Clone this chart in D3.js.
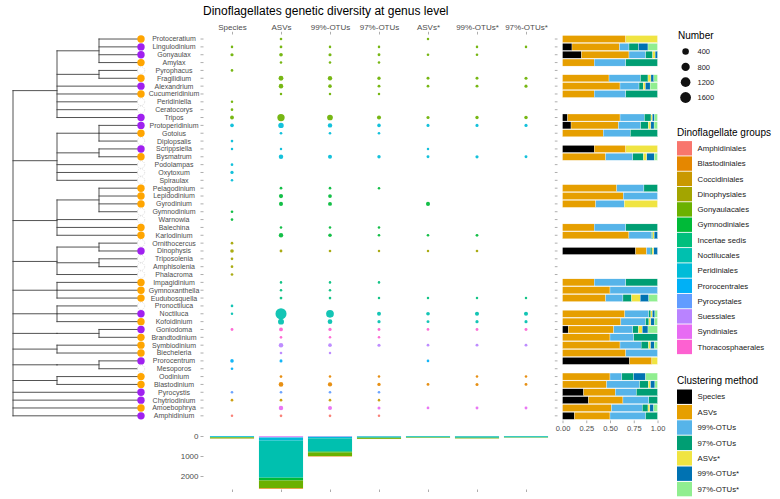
<!DOCTYPE html>
<html><head><meta charset="utf-8">
<script src="https://cdn.jsdelivr.net/npm/d3@7"></script>
<style>
body{margin:0;background:#fff;}
svg{display:block;font-family:"Liberation Sans",Arial,sans-serif;}
</style></head><body>
<svg id="chart" width="780" height="499"></svg>
<script>
// ---------------- DATA ----------------
const genera = ["Protoceratium","Lingulodinium","Gonyaulax","Amylax","Pyrophacus","Fragilidium","Alexandrium","Cucumeridinium","Peridiniella","Ceratocorys","Tripos",
"Protoperidinium","Gotoius","Diplopsalis","Scrippsiella","Bysmatrum","Podolampas","Oxytoxum","Spiraulax",
"Pelagodinium","Lepidodinium","Gyrodinium","Gymnodinium","Warnowia","Balechina","Karlodinium",
"Ornithocercus","Dinophysis","Triposolenia","Amphisolenia","Phalacroma",
"Impagidinium","Gymnoxanthella","Eudubosquella","Pronoctiluca","Noctiluca","Kofoidinium",
"Goniodoma","Brandtodinium","Symbiodinium","Biecheleria","Prorocentrum","Mesoporos",
"Oodinium","Blastodinium","Pyrocystis","Chytriodinium","Amoebophrya","Amphidinium"];

const genusGroup = ["Gonyaulacales","Gonyaulacales","Gonyaulacales","Gonyaulacales","Gonyaulacales","Gonyaulacales","Gonyaulacales","Gonyaulacales","Gonyaulacales","Gonyaulacales","Gonyaulacales",
"Peridiniales","Peridiniales","Peridiniales","Peridiniales","Peridiniales","Peridiniales","Peridiniales","Peridiniales",
"Gymnodiniales","Gymnodiniales","Gymnodiniales","Gymnodiniales","Gymnodiniales","Gymnodiniales","Gymnodiniales",
"Dinophysiales","Dinophysiales","Dinophysiales","Dinophysiales","Dinophysiales",
"Incertae sedis","Incertae sedis","Incertae sedis","Noctilucales","Noctilucales","Noctilucales",
"Thoracosphaerales","Thoracosphaerales","Suessiales","Suessiales","Prorocentrales","Prorocentrales",
"Blastodiniales","Blastodiniales","Pyrocystales","Coccidiniales","Syndiniales","Amphidiniales"];

// tip marker: o = orange, p = purple, w = empty
const tipMarker = ["o","p","p","o","w","o","p","o","w","w","p",
"p","o","w","p","o","w","w","w",
"o","o","o","w","w","o","o",
"w","p","w","w","w",
"o","o","o","w","p","o",
"p","o","o","o","p","w",
"o","o","p","p","o","p"];

// dendrogram topology (nested lists of tip names)
const tree = [
  [["Protoceratium","Lingulodinium","Gonyaulax","Amylax"],["Pyrophacus","Fragilidium"],"Alexandrium","Cucumeridinium","Peridiniella","Ceratocorys","Tripos"],
  [["Protoperidinium","Gotoius","Diplopsalis"],["Scrippsiella","Bysmatrum"],"Podolampas","Oxytoxum","Spiraulax"],
  [["Pelagodinium","Lepidodinium","Gyrodinium","Gymnodinium"],"Warnowia","Balechina","Karlodinium"],
  [["Ornithocercus","Dinophysis"],["Triposolenia","Amphisolenia"],"Phalacroma"],
  ["Impagidinium","Gymnoxanthella","Eudubosquella"],
  ["Pronoctiluca","Noctiluca","Kofoidinium"],
  [["Goniodoma","Brandtodinium"]],
  ["Symbiodinium","Biecheleria"],
  [["Prorocentrum","Mesoporos"]],
  ["Oodinium","Blastodinium"],
  "Pyrocystis","Chytriodinium","Amoebophrya","Amphidinium"
];

const methods = ["Species","ASVs","99%-OTUs","97%-OTUs","ASVs*","99%-OTUs*","97%-OTUs*"];

// counts per genus (same order as genera), one array per method
const nSpecies = [0,1,16,0,2,0,0,0,1,2,54, 40,0,2,1,0,3,20,1, 0,0,0,3,2,0,0, 3,40,3,3,3, 0,0,0,2,1,0, 6,0,0,0,36,3, 0,0,2,3,0,1];
const nASVs    = [2,5,40,1,0,142,109,1,0,0,550, 222,3,0,1,105,0,0,0, 4,80,70,0,0,1,100, 0,6,0,0,0, 1,1,5,0,1700,300, 48,2,109,2,12,0, 4,121,3,4,103,3];
const nOTU99   = [0,1,14,1,0,96,36,1,0,0,255, 104,2,0,0,66,0,0,0, 2,45,60,0,0,1,34, 0,2,0,0,0, 1,1,2,0,650,127, 20,1,40,1,0,0, 1,90,2,3,65,3];
const nOTU97   = [0,1,6,1,0,23,8,1,0,0,70, 36,2,0,0,26,0,0,0, 1,0,0,0,0,1,2, 0,1,0,0,0, 1,0,1,0,60,17, 6,1,14,0,0,0, 1,24,2,1,12,1];
const nASVsS   = [1,0,2,0,0,9,4,0,0,0,14, 12,0,0,1,8,0,0,0, 0,0,70,0,0,0,2, 0,1,0,0,0, 0,0,1,0,40,10, 4,0,4,0,3,0, 0,6,0,0,4,0];
const nOTU99S  = [0,1,2,0,0,9,9,0,0,0,24, 15,0,0,0,18,0,0,0, 0,0,0,0,0,0,5, 0,2,0,0,0, 0,0,1,0,70,19, 6,0,7,0,0,0, 1,12,0,0,8,0];
const nOTU97S  = [0,1,0,0,0,11,14,0,0,0,30, 16,0,0,0,8,0,0,0, 0,0,0,0,0,0,0, 0,0,0,0,0, 0,0,1,0,70,15, 10,0,6,0,0,0, 1,7,0,0,8,0];
const methodCounts = [nSpecies,nASVs,nOTU99,nOTU97,nASVsS,nOTU99S,nOTU97S];

const groups = ["Amphidiniales","Blastodiniales","Coccidiniales","Dinophysiales","Gonyaulacales","Gymnodiniales","Incertae sedis","Noctilucales","Peridiniales","Prorocentrales","Pyrocystales","Suessiales","Syndiniales","Thoracosphaerales"];
const groupColors = ["#F8766D","#E58700","#C99800","#A3A500","#6BB100","#00BA38","#00BF7D","#00C0AF","#00BCD8","#00B0F6","#619CFF","#B983FF","#E76BF3","#FD61D1"];

// bottom panel: totals per group (order of groups) for each method
const totSpecies = [2,2,3,15,45,15,0,2,40,8,2,0,0,1];
const totASVs    = [5,30,4,6,383,133,7,1850,150,12,3,30,25,12];
const totOTU99   = [3,20,3,2,180,50,3,650,80,0,2,15,12,8];
const totOTU97   = [1,5,1,3,50,8,1,45,25,0,2,5,3,3];
const totASVsS   = [0,2,0,1,20,10,1,45,12,1,0,1,1,1];
const totOTU99S  = [0,3,0,1,30,3,1,65,15,0,0,2,2,2];
const totOTU97S  = [0,2,0,0,15,0,1,55,8,0,0,1,1,3];
const methodTotals = [totSpecies,totASVs,totOTU99,totOTU97,totASVsS,totOTU99S,totOTU97S];

const methodColors = ["#000000","#E69F00","#56B4E9","#009E73","#F0E442","#0072B2","#90EE90"];
const sizeBreaks = [400,800,1200,1600];
const propTicks = [0,0.25,0.5,0.75,1];
const totalTicks = [0,1000,2000];

// ---------------- DRAWING ----------------
const svg = d3.select("#chart");
const TXT = "#4d4d4d", TICK = "#8a8a8a";
const groupColor = d3.scaleOrdinal().domain(groups).range(groupColors);
const methodColor = d3.scaleOrdinal().domain(methods).range(methodColors);

const y = d3.scaleBand().domain(genera).range([35.1, 419.75]);
const yc = g => y(g) + y.bandwidth()/2;
const xm = d3.scalePoint().domain(methods).range([232, 526]);
const size = d3.scaleSqrt().domain([0,1600]).range([1.15,5.4]);
const xb = d3.scaleLinear().domain([0,1]).range([562.5,657.5]);
const yb = d3.scaleLinear().domain([0,1000]).range([436,456]);

function styleAxis(g, fs){
  g.select(".domain").remove();
  g.selectAll(".tick line").attr("stroke",TICK).attr("stroke-width",0.7);
  g.selectAll(".tick text").attr("fill",TXT).attr("font-size",fs).attr("font-family",'"Liberation Sans",Arial,sans-serif');
}

// title
svg.append("text").attr("x",203).attr("y",14.5).attr("font-size",12).attr("fill","#000")
  .text("Dinoflagellates genetic diversity at genus level");

// tree
const root = d3.hierarchy(tree, d => Array.isArray(d) ? d : null);
const depthX = [13,57,99], leafX = 141;
root.eachAfter(n => {
  if (!n.children) { n.py = yc(n.data); n.px = leafX; }
  else { n.py = d3.mean(n.children, c => c.py); n.px = depthX[n.depth]; }
});
const gTree = svg.append("g").attr("stroke","#404040").attr("stroke-width",0.9).attr("stroke-linecap","square");
root.each(n => {
  if (n.children) {
    const ys = n.children.map(c => c.py);
    gTree.append("line").attr("x1",n.px).attr("x2",n.px).attr("y1",d3.min(ys)).attr("y2",d3.max(ys));
    n.children.forEach(c => gTree.append("line").attr("x1",n.px).attr("x2",c.px).attr("y1",c.py).attr("y2",c.py));
  }
});

// tip markers and labels
const markerFill = {o:"#FFA500", p:"#A020F0", w:"#ffffff"};
svg.append("g").selectAll("circle").data(genera).join("circle")
  .attr("cx",leafX).attr("cy",d=>yc(d)).attr("r",3.7)
  .attr("fill",(d,i)=>markerFill[tipMarker[i]])
  .attr("stroke",(d,i)=>tipMarker[i]==="w"?"#c8c8c8":"none")
  .attr("stroke-width",0.6).attr("stroke-dasharray",(d,i)=>tipMarker[i]==="w"?"1,1":null);
svg.append("g").selectAll("text").data(genera).join("text")
  .attr("x",174).attr("y",d=>yc(d)).attr("dy","0.35em").attr("text-anchor","middle")
  .attr("font-size",7).attr("fill",TXT).text(d=>d);

// dot panel axes
svg.append("g").attr("transform","translate(0,34.5)")
  .call(d3.axisTop(xm).tickSize(2.7).tickPadding(2.3)).call(g=>styleAxis(g,8));
svg.append("g").attr("transform","translate(203.5,0)")
  .call(d3.axisLeft(y).tickSize(3).tickFormat("")).call(g=>styleAxis(g,7));

// dots
const dots = [];
genera.forEach((g,i)=>methods.forEach((m,j)=>{
  const v = methodCounts[j][i];
  if (v>0) dots.push({g, m, v, grp: genusGroup[i]});
}));
dots.sort((a,b)=>b.v-a.v);
svg.append("g").selectAll("circle").data(dots).join("circle")
  .attr("cx",d=>xm(d.m)).attr("cy",d=>yc(d.g)).attr("r",d=>size(d.v))
  .attr("fill",d=>groupColor(d.grp)).attr("opacity",0.92);

// proportion bars
svg.append("g").attr("transform","translate(557.5,0)")
  .call(d3.axisLeft(y).tickSize(2.7).tickFormat("")).call(g=>styleAxis(g,7));
svg.append("g").attr("transform","translate(0,420.5)")
  .call(d3.axisBottom(xb).tickValues(propTicks).tickFormat(d3.format(".2f")).tickSize(2.7).tickPadding(2.2))
  .call(g=>styleAxis(g,7.5));
const segs = [];
genera.forEach((g,i)=>{
  const vals = methodCounts.map(a=>a[i]);
  const mol = d3.sum(vals.slice(1));
  if (mol<=0) return;
  const tot = d3.sum(vals);
  let c = 0;
  vals.forEach((v,j)=>{ if(v>0){ segs.push({g, m:methods[j], x0:c/tot, x1:(c+v)/tot}); } c+=v; });
});
const bh = y.bandwidth()*0.9;
svg.append("g").selectAll("rect").data(segs).join("rect")
  .attr("x",d=>xb(d.x0)).attr("width",d=>xb(d.x1)-xb(d.x0))
  .attr("y",d=>yc(d.g)-bh/2).attr("height",bh)
  .attr("fill",d=>methodColor(d.m)).attr("stroke","#fff").attr("stroke-width",0.3);

// bottom stacked totals
const totRows = methods.map((m,j)=>{ const o={method:m}; groups.forEach((gr,k)=>o[gr]=methodTotals[j][k]); return o; });
const stack = d3.stack().keys(groups.slice().reverse())(totRows);
const bw = xm.step()*0.9;
svg.append("g").selectAll("g").data(stack).join("g").attr("fill",d=>groupColor(d.key))
  .selectAll("rect").data(d=>d).join("rect")
  .attr("x",d=>xm(d.data.method)-bw/2).attr("width",bw)
  .attr("y",d=>yb(d[0])).attr("height",d=>Math.max(0,yb(d[1])-yb(d[0])));
svg.append("g").attr("transform","translate(203.5,0)")
  .call(d3.axisLeft(yb).tickValues(totalTicks).tickFormat(d3.format("d")).tickSize(3).tickPadding(2))
  .call(g=>styleAxis(g,8));
svg.append("g").attr("transform","translate(0,489.5)")
  .call(d3.axisBottom(xm).tickSize(2.5).tickFormat("")).call(g=>styleAxis(g,7));

// legends
const lg = svg.append("g").attr("fill","#000");
lg.append("text").attr("x",678).attr("y",39).attr("font-size",10).text("Number");
sizeBreaks.forEach((b,i)=>{
  const cy = 51.6 + i*15.3;
  lg.append("circle").attr("cx",685.6).attr("cy",cy).attr("r",size(b)).attr("fill","#111");
  lg.append("text").attr("x",697.5).attr("y",cy).attr("dy","0.35em").attr("font-size",7.5).attr("fill","#222").text(b);
});
lg.append("text").attr("x",677).attr("y",136).attr("font-size",10).text("Dinoflagellate groups");
groups.forEach((gr,i)=>{
  const cy = 148.3 + i*15.28;
  lg.append("rect").attr("x",677).attr("y",cy-7.2).attr("width",15).attr("height",14.4).attr("fill",groupColor(gr));
  lg.append("text").attr("x",697.5).attr("y",cy).attr("dy","0.35em").attr("font-size",7.8).attr("fill","#222").text(gr);
});
lg.append("text").attr("x",677).attr("y",384).attr("font-size",10).text("Clustering method");
methods.forEach((m,i)=>{
  const cy = 396.7 + i*15.4;
  lg.append("rect").attr("x",677).attr("y",cy-7.2).attr("width",15).attr("height",14.4).attr("fill",methodColor(m));
  lg.append("text").attr("x",697.5).attr("y",cy).attr("dy","0.35em").attr("font-size",7.8).attr("fill","#222").text(m);
});
</script>
</body></html>
